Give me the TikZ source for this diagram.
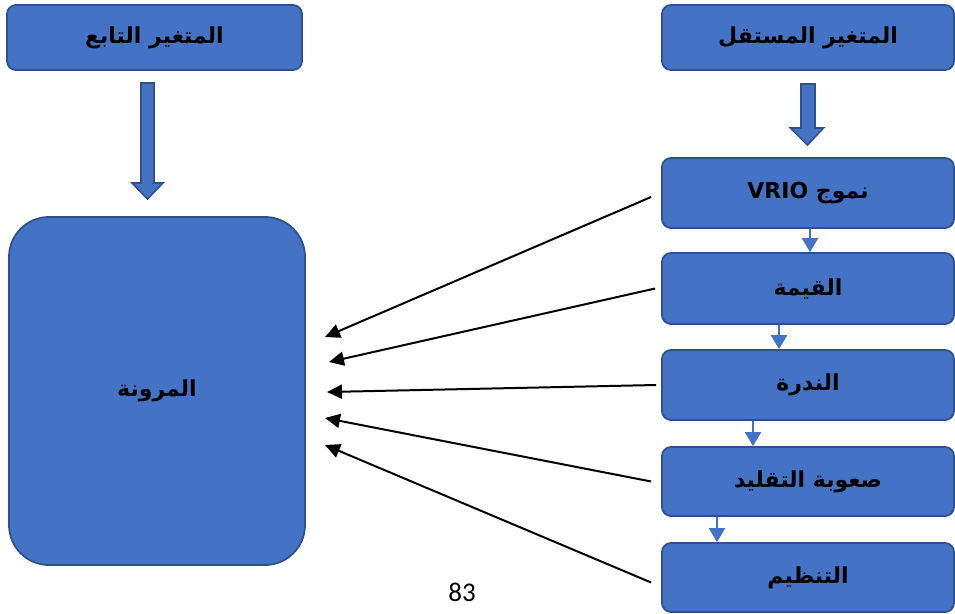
\documentclass[tikz,border=0pt]{standalone}
\usepackage{fontspec}
\usetikzlibrary{arrows.meta}
\TeXXeTstate=1
\newfontfamily\arabicfont[Script=Arabic]{DejaVu Sans}
\newfontfamily\numfont{Carlito}
\definecolor{boxblue}{HTML}{4472C4}
\definecolor{boxedge}{HTML}{2F528F}
\tikzset{
  box/.style={draw=boxedge, line width=1.8pt, fill=boxblue, rounded corners=9pt,
    inner sep=0pt, font=\arabicfont\bfseries\fontsize{22}{24}\selectfont, text=black},
  rbox/.style={box, minimum width=292pt},
  smallarr/.style={draw=boxblue, line width=2.2pt, -{Triangle[width=16pt,length=14pt]}},
  blackarr/.style={draw=black, line width=2pt, -{Triangle[width=14pt,length=15pt]}},
  blockarr/.style={draw=boxedge, line width=1.6pt, fill=boxblue}
}
\begin{document}
\begin{tikzpicture}[x=1pt,y=-1pt]
\useasboundingbox (0,0) rectangle (955,613);
% top boxes
\node[box, minimum width=295pt, minimum height=65pt] (dep) at (154.5,37.5) {\beginR المتغير التابع\endR};
\node[rbox, minimum height=65pt] (ind) at (808,37.5) {\beginR المتغير المستقل\endR};
% big box
\node[box, rounded corners=40pt, minimum width=296pt, minimum height=348pt] (flex) at (157,391) {\beginR المرونة\endR};
% right column
\node[rbox, minimum height=70pt] (vrio) at (808,193) {\beginR نموج \beginL VRIO\endL\endR};
\node[rbox, minimum height=71pt] (val) at (808,288.5) {\beginR القيمة\endR};
\node[rbox, minimum height=70pt] (rar) at (808,385) {\beginR الندرة\endR};
\node[rbox, minimum height=69pt] (imi) at (808,481.5) {\beginR صعوبة التقليد\endR};
\node[rbox, minimum height=69pt] (org) at (808,577.5) {\beginR التنظيم\endR};
% page number
\node[font=\numfont\fontsize{27}{29}\selectfont, inner sep=0pt] (pg) at (462,592) {83};
% block arrows
\draw[blockarr] (141,83) -- (154,83) -- (154,183) -- (163,183) -- (147.5,199) -- (132,183) -- (141,183) -- cycle;
\draw[blockarr] (801,84) -- (815,84) -- (815,128) -- (823.5,128) -- (807.5,145) -- (790.5,128) -- (801,128) -- cycle;
% small arrows
\draw[smallarr] ([xshift=2pt]vrio.south) -- ([xshift=2pt]val.north);
\draw[smallarr] ([xshift=-29pt]val.south) -- ([xshift=-29pt]rar.north);
\draw[smallarr] ([xshift=-55pt]rar.south) -- ([xshift=-55pt]imi.north);
\draw[smallarr] ([xshift=-91pt]imi.south) -- ([xshift=-91pt]org.north);
% arrow end points
\coordinate (e1) at (325,337);
\coordinate (e2) at (329,362);
\coordinate (e3) at (327,392);
\coordinate (e4) at (325,418);
\coordinate (e5) at (325,445);
\draw[blackarr] ([xshift=-10pt,yshift=-4pt]vrio.west) -- (e1);
\draw[blackarr] ([xshift=-6pt]val.west) -- (e2);
\draw[blackarr] ([xshift=-5pt]rar.west) -- (e3);
\draw[blackarr] ([xshift=-10pt]imi.west) -- (e4);
\draw[blackarr] ([xshift=-10pt,yshift=-5pt]org.west) -- (e5);
\end{tikzpicture}
\end{document}
